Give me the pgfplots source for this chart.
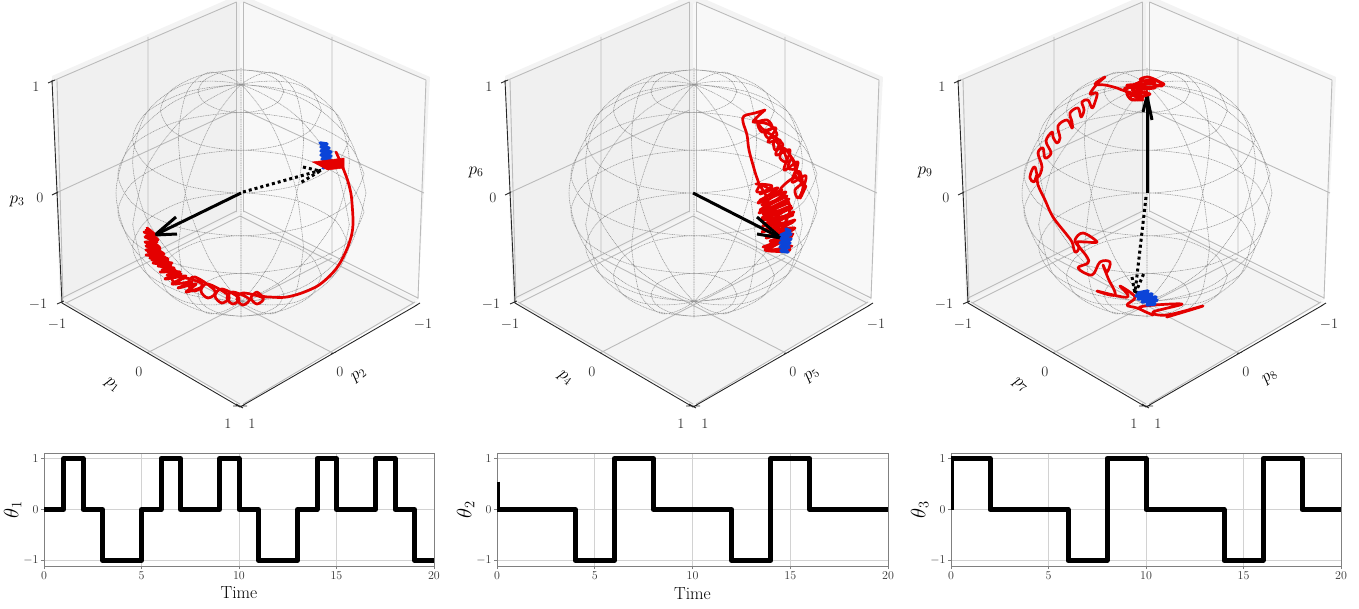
\documentclass[border=0pt]{standalone}
\usepackage{amsmath,amssymb}
\usepackage{pgfplots}
\usepackage{pgfplotstable}
\pgfplotsset{compat=1.18}

\definecolor{paneband}{HTML}{F3F3F3}
\definecolor{paneleft}{HTML}{F0F0F0}
\definecolor{paneright}{HTML}{F8F8F8}
\definecolor{panefloor}{HTML}{F4F4F4}
\definecolor{panegrid}{HTML}{BBBBBB}
\definecolor{traj}{HTML}{E40000}
\definecolor{trajb}{HTML}{0B44D8}
\definecolor{spine}{HTML}{808080}
\definecolor{lightgrid}{HTML}{D2D2D2}

% pane geometry, pixels of the first panel
\pgfplotstableread{
x y
52 76
240 -6
430 77
418 300
60 302
}\paneband
\pgfplotstableread{
x y
56 80
236.5 2
240 4
240 212
62 300
}\paneleft
\pgfplotstableread{
x y
240 4
243.5 2
426 80
418 300
240 212
}\paneright
\pgfplotstableread{
x y
60 302
240 212
418 302
240 405
}\panefloor
\pgfplotstableread{
x y
55 80
236.5 2
nan nan
56 193
236.5 110
nan nan
62 298
236.5 211
nan nan
66 303
240 216
nan nan
148 37
148 256
nan nan
236.5 2
236.5 212
nan nan
243.5 2
243.5 212
nan nan
57 80
63 299
nan nan
243.5 2
426 80
nan nan
243.5 110
424 193
nan nan
243.5 211
418 298
nan nan
240 216
414 303
nan nan
332 37
332 256
nan nan
426 80
418 299
nan nan
147 353
332 258
nan nan
333 353
148 258
nan nan
65 302
240 404
nan nan
415 302
243 404
}\panegrid
\pgfplotstableread{
x y
52 80
62 303
240 407
417 305
nan nan
48 83
55 80
nan nan
52 195
58 192
nan nan
57 304
64 301
nan nan
146 352
151 355
nan nan
331 354
336 352
nan nan
233 406
247 406
nan nan
236 404
243 408
nan nan
415 306
420 303
}\paneaxes

% unit sphere mesh projected at elevation 30, azimuth 45, radius 125 px
\pgfplotstableread{
x y
42.8 101.7
37.1 112.4
21.4 120.2
0 123.1
-21.4 120.2
-37.1 112.4
-42.8 101.7
-37.1 91.0
-21.4 83.2
0 80.3
21.4 83.2
37.1 91.0
42.8 101.7
nan nan
80.4 82.9
69.6 103.0
40.2 117.7
0 123.1
-40.2 117.7
-69.6 103.0
-80.4 82.9
-69.6 62.8
-40.2 48.1
0 42.7
40.2 48.1
69.6 62.8
80.4 82.9
nan nan
108.3 54.1
93.8 81.2
54.1 101.0
0 108.2
-54.1 101.0
-93.8 81.2
-108.3 54.1
-93.8 27.0
-54.1 7.2
0 0
54.1 7.2
93.8 27.0
108.3 54.1
nan nan
123.1 18.8
106.6 49.6
61.6 72.1
0 80.4
-61.6 72.1
-106.6 49.6
-123.1 18.8
-106.6 -12.0
-61.6 -34.5
0 -42.8
61.6 -34.5
106.6 -12.0
123.1 18.8
nan nan
123.1 -18.8
106.6 -49.6
61.6 -72.1
0 -80.4
-61.6 -72.1
-106.6 -49.6
-123.1 -18.8
-106.6 12.0
-61.6 34.5
0 42.8
61.6 34.5
106.6 12.0
123.1 -18.8
nan nan
108.3 -54.1
93.8 -81.2
54.1 -101.0
0 -108.2
-54.1 -101.0
-93.8 -81.2
-108.3 -54.1
-93.8 -27.0
-54.1 -7.2
0 0
54.1 -7.2
93.8 -27.0
108.3 -54.1
nan nan
80.4 -82.9
69.6 -103.0
40.2 -117.7
0 -123.1
-40.2 -117.7
-69.6 -103.0
-80.4 -82.9
-69.6 -62.8
-40.2 -48.1
0 -42.7
40.2 -48.1
69.6 -62.8
80.4 -82.9
nan nan
42.8 -101.7
37.1 -112.4
21.4 -120.2
0 -123.1
-21.4 -120.2
-37.1 -112.4
-42.8 -101.7
-37.1 -91.0
-21.4 -83.2
0 -80.3
21.4 -83.2
37.1 -91.0
42.8 -101.7
nan nan
125 0
108.3 54.1
62.5 93.7
0 108.3
-62.5 93.7
-108.3 54.1
-125 0
-108.3 -54.1
-62.5 -93.7
0 -108.3
62.5 -93.7
108.3 -54.1
125 0
nan nan
108.3 -31.3
93.7 27.0
54.1 78.1
0 108.3
-54.1 109.3
-93.7 81.2
-108.3 31.3
-93.7 -27.0
-54.1 -78.1
0 -108.3
54.1 -109.3
93.7 -81.2
108.3 -31.3
nan nan
-108.3 -31.3
-93.7 27.0
-54.1 78.1
0 108.3
54.1 109.3
93.7 81.2
108.3 31.3
93.7 -27.0
54.1 -78.1
0 -108.3
-54.1 -109.3
-93.7 -81.2
-108.3 -31.3
nan nan
62.5 -54.1
54.1 7.2
31.3 66.6
0 108.3
-31.3 120.8
-54.1 101.0
-62.5 54.1
-54.1 -7.2
-31.3 -66.6
0 -108.3
31.3 -120.8
54.1 -101.0
62.5 -54.1
nan nan
-62.5 -54.1
-54.1 7.2
-31.3 66.6
0 108.3
31.3 120.8
54.1 101.0
62.5 54.1
54.1 -7.2
31.3 -66.6
0 -108.3
-31.3 -120.8
-54.1 -101.0
-62.5 -54.1
nan nan
0 125
0 -125
}\spheremesh

\newcommand{\tl}[3]{\node[font=\fontsize{14}{14}\selectfont,text=black!80] at (axis cs:#1,#2) {$#3$};}
\newcommand{\panelframe}[1]{%
  \addplot[fill=paneband,draw=none] table[x expr=\thisrow{x}+#1,y=y] {\paneband};
  \addplot[fill=paneleft,draw=none] table[x expr=\thisrow{x}+#1,y=y] {\paneleft};
  \addplot[fill=paneright,draw=none] table[x expr=\thisrow{x}+#1,y=y] {\paneright};
  \addplot[fill=panefloor,draw=none] table[x expr=\thisrow{x}+#1,y=y] {\panefloor};
  \addplot[draw=panegrid,line width=0.9pt] table[x expr=\thisrow{x}+#1,y=y] {\panegrid};
  \addplot[draw=black!85,line width=0.9pt] table[x expr=\thisrow{x}+#1,y=y] {\paneaxes};
  \addplot[draw=black!42,line width=0.55pt,dash pattern=on 1pt off 0.7pt,smooth]
    table[x expr=\thisrow{x}+241+#1,y expr=193-\thisrow{y}] {\spheremesh};
  \tl{36+#1}{87}{1}
  \tl{40+#1}{198}{0}
  \tl{38+#1}{304}{-1}
  \tl{57+#1}{324}{-1}
  \tl{423+#1}{324}{-1}
  \tl{139+#1}{372}{0}
  \tl{340+#1}{372}{0}
  \tl{228+#1}{424}{1}
  \tl{252+#1}{424}{1}
}
\newcommand{\pl}[4]{\node[font=\fontsize{18}{18}\selectfont,rotate=#3,inner sep=0pt] at (axis cs:#1,#2) {$#4$};}

\pgfplotsset{
  traj/.style={draw=traj,line width=2.7pt,smooth,tension=0.6,line join=round,line cap=round},
  trajb/.style={draw=trajb,line width=3.4pt,line join=round,line cap=round},
  stem/.style={draw=black,line width=3pt},
  stemd/.style={draw=black,line width=3pt,dash pattern=on 3pt off 3pt},
  steps/.style={
    scale only axis,width=390pt,height=113pt,
    xmin=0,xmax=20,ymin=-1.11,ymax=1.11,
    xtick={0,5,10,15,20},ytick={-1,0,1},
    grid=major,major grid style={draw=lightgrid,line width=0.9pt},
    axis line style={draw=spine,line width=1pt},
    tick style={draw=spine,line width=0.8pt},major tick length=3pt,
    tick align=outside,xtick pos=bottom,ytick pos=left,
    ticklabel style={font=\fontsize{11.5}{11.5}\selectfont,text=black!80},
    xticklabel style={yshift=1pt},yticklabel style={xshift=1pt},
    ylabel style={font=\fontsize{22}{22}\selectfont,yshift=-5pt},
    clip=true,
  },
  stepline/.style={draw=black,line width=5pt,line join=round},
}

\begin{document}
\begin{tikzpicture}[x=1pt,y=1pt]
\path[use as bounding box] (0,0) rectangle (1359,608);
\begin{axis}[
  at={(0pt,0pt)},anchor=south west,scale only axis,width=1359pt,height=608pt,
  xmin=0,xmax=1359,ymin=0,ymax=608,y dir=reverse,hide axis,clip=false,
  unbounded coords=jump,
]
\panelframe{0}
\panelframe{453}
\panelframe{906}

% panel 1
\pl{17}{201}{0}{p_3}
\pl{112}{385}{-38}{p_1}
\pl{359}{375}{38}{p_2}
\addplot[stemd] coordinates {(243,192) (322,170)};
\addplot[stemd] coordinates {(303,167) (320,171) (300,183)};
\addplot[stem] coordinates {(241,193) (155,235)};
\addplot[stem] coordinates {(176,217) (155,235) (177,234)};
\addplot[trajb] coordinates {(320,143) (327,144) (321,147) (329,148) (321,151) (331,152) (321,155) (331,156) (322,159) (331,160) (322,163) (330,165) (323,168)};
\addplot[fill=traj,draw=traj,line width=0.5pt] coordinates {(312,162) (344,158) (344,168) (327,170)};
\addplot[traj] coordinates {
(336,152) (343,168) (349,185) (352,203) (352,233) (340,263) (323,282) (307,291) (287,297) (270,297)
(262,296) (257,292) (251,298) (257,304) (263,298)
(243,293) (237,299) (243,305) (249,299)
(233,292) (227,298) (233,304) (239,298)
(222,289) (215,296) (222,303) (229,296)
(208,284) (201,291) (208,298) (215,291)
(195,277) (188,284) (195,291) (202,284)
(185,278) (176,283) (172,278) (181,274) (167,275) (177,272) (162,270) (174,268) (158,266) (171,265) (153,263) (168,261) (150,258) (165,257)
(146,255) (162,254) (146,250) (160,250) (146,246) (158,246) (145,242) (157,242) (145,237) (156,238) (144,232) (154,234) (147,228)
};
\addplot[traj] coordinates {(146,230) (158,240) (146,236) (160,248) (147,244) (164,254) (148,252) (168,259) (152,260) (172,263) (156,262) (175,270) (160,272) (180,272) (165,279) (186,276) (172,284) (192,282) (178,288) (196,284) (186,292) (200,288)};

% panel 2
\pl{476}{172}{0}{p_6}
\pl{565}{378}{-38}{p_4}
\pl{812}{375}{38}{p_5}
\addplot[traj] coordinates {
(765,110) (755,113) (744,116) (743,122) (747,135) (749,150) (755,172) (759,185)
(757,192) (770,190) (760,185) (766,196) (760,200) (782,190) (762,205) (787,196) (760,210) (788,203) (763,214) (792,208)
(762,220) (793,215) (764,225) (793,222) (766,230) (794,228) (768,236) (793,234) (770,241) (790,240) (763,247) (785,240) (765,250) (790,250) (780,237)
(790,210) (785,196) (780,190) (790,180) (798,178) (802,183) (795,190) (798,198) (803,188) (800,172) (795,175) (802,182)
(795,167) (792,158) (788,168) (797,168) (790,155) (783,148) (780,158) (787,162) (783,150) (774,140) (775,150) (783,145)
(775,137) (765,132) (768,138) (777,135) (770,125) (758,123) (762,132) (772,128) (767,120) (753,122) (765,110)
};
\addplot[traj] coordinates {(756,184) (772,186) (760,194) (778,188) (758,203) (786,192) (759,213) (789,199) (762,218) (791,206) (763,226) (794,212) (762,232) (795,220) (766,238) (795,228) (770,244) (792,236) (768,250) (792,246)};
\addplot[traj] coordinates {(756,120) (764,130) (776,128) (768,142) (780,140) (776,155) (790,150) (784,170) (798,162) (792,182) (806,176) (800,198) (806,186)};
\addplot[stem] coordinates {(693,193) (781,238)};
\addplot[stem] coordinates {(757,217) (781,238) (757,234)};
\addplot[trajb] coordinates {(786,229) (790,231) (781,235) (791,234) (781,239) (791,239) (780,243) (790,243) (780,247) (789,247) (781,251) (788,252)};

% panel 3
\pl{925}{172}{0}{p_9}
\pl{1020}{385}{-38}{p_7}
\pl{1270}{377}{38}{p_8}
\addplot[stem] coordinates {(1147,193) (1147,96)};
\addplot[stem] coordinates {(1143,112) (1147,96) (1152,120)};
\addplot[stemd] coordinates {(1146,197) (1135,293)};
\addplot[stemd] coordinates {(1132,277) (1135,294) (1144,273)};
\addplot[traj] coordinates {
(1136,90) (1155,88) (1145,88) (1163,85) (1160,82) (1148,77) (1140,80) (1155,83) (1128,85) (1133,86) (1150,88) (1125,88) (1132,95) (1147,92) (1140,98) (1127,93) (1132,100) (1143,97) (1122,90)
(1117,88) (1105,85) (1095,84) (1105,77) (1097,84) (1090,94) (1097,93) (1095,102) (1092,108) (1088,100) (1082,102) (1084,110) (1081,117) (1078,108)
(1070,113) (1072,122) (1072,128) (1067,120) (1058,126) (1060,138) (1057,143) (1053,137) (1052,132) (1046,141) (1051,153) (1045,158) (1043,148)
(1038,153) (1042,167) (1038,177) (1035,167) (1032,170) (1030,178) (1034,182) (1037,175)
(1038,185) (1045,200) (1053,217) (1067,235) (1072,242) (1075,252) (1079,248) (1075,240) (1083,233) (1097,242) (1085,242) (1077,243)
(1087,257) (1088,263) (1078,268) (1092,275) (1100,262) (1110,262) (1107,272) (1103,265) (1108,278) (1115,295) (1097,291) (1123,297) (1128,295) (1120,286) (1135,297)
(1127,305) (1137,308) (1153,315) (1140,307) (1182,304) (1153,312) (1167,315) (1203,306) (1167,317) (1183,312)
};
\addplot[traj] coordinates {(1125,90) (1140,82) (1155,80) (1162,86) (1148,84) (1132,90) (1150,94) (1136,96) (1145,86) (1130,98) (1143,100)};
\addplot[trajb] coordinates {(1138,293) (1148,291) (1136,296) (1152,294) (1138,299) (1156,297) (1142,302) (1157,300) (1147,305) (1155,304)};
\end{axis}

\begin{axis}[steps,at={(44pt,42pt)},anchor=south west,
  xlabel={Time},xlabel style={font=\fontsize{17.5}{17.5}\selectfont,yshift=0pt},
  ylabel={$\theta_1$}]
\addplot[stepline] coordinates {(0,0) (1,0) (1,1) (2,1) (2,0) (3,0) (3,-1) (5,-1) (5,0) (6,0) (6,1) (7,1) (7,0) (9,0) (9,1) (10,1) (10,0) (11,0) (11,-1) (13,-1) (13,0) (14,0) (14,1) (15,1) (15,0) (17,0) (17,1) (18,1) (18,0) (19,0) (19,-1) (20,-1)};
\end{axis}
\begin{axis}[steps,at={(497pt,42pt)},anchor=south west,width=391pt,
  xlabel={Time},xlabel style={font=\fontsize{17.5}{17.5}\selectfont,yshift=-1pt},
  ylabel={$\theta_2$}]
\addplot[stepline] coordinates {(0,0.55) (0,0) (4,0) (4,-1) (6,-1) (6,1) (8,1) (8,0) (12,0) (12,-1) (14,-1) (14,1) (16,1) (16,0) (20,0)};
\end{axis}
\begin{axis}[steps,at={(951pt,42pt)},anchor=south west,
  ylabel={$\theta_3$}]
\addplot[stepline] coordinates {(0,0) (0,1) (2,1) (2,0) (6,0) (6,-1) (8,-1) (8,1) (10,1) (10,0) (14,0) (14,-1) (16,-1) (16,1) (18,1) (18,0) (20,0)};
\end{axis}
\end{tikzpicture}
\end{document}
